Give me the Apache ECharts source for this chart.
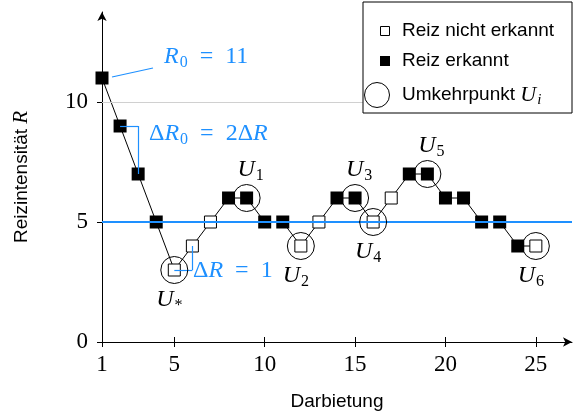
<!DOCTYPE html>
<html>
<head>
<meta charset="utf-8">
<script src="https://cdn.jsdelivr.net/npm/echarts@6/dist/echarts.min.js"></script>
<style>
  html, body { margin: 0; padding: 0; background: #fff; }
  #chart { width: 574px; height: 412px; }
</style>
</head>
<body>
<div id="chart"></div>
<script>
// staircase data
const trials = [1, 2, 3, 4, 5, 6, 7, 8, 9, 10, 11, 12, 13, 14, 15, 16, 17, 18, 19, 20, 21, 22, 23, 24, 25];
const intensity = [11, 9, 7, 5, 3, 4, 5, 6, 6, 5, 5, 4, 5, 6, 6, 5, 6, 7, 7, 6, 6, 5, 5, 4, 4];
const detected = [1, 1, 1, 1, 0, 0, 0, 1, 1, 1, 1, 0, 0, 1, 1, 0, 0, 1, 1, 1, 1, 1, 1, 1, 0];
const reversalTrials = [5, 9, 12, 15, 16, 19, 25];
const reversalNames = ["*", "1", "2", "3", "4", "5", "6"];
const xTicks = [1, 5, 10, 15, 20, 25];
const yTicks = [0, 5, 10];
const threshold = 5;
const refLevel = 10;

const BLUE = "#1e90ff";
const SERIF = "Liberation Serif";
const SANS = "Liberation Sans";
const SP = "\u2002"; // wider space around "=" like TeX math

const chart = echarts.init(document.getElementById("chart"));

const points = trials.map((t, i) => [t, intensity[i]]);
const hits = points.filter((p, i) => detected[i] === 1);
const misses = points.filter((p, i) => detected[i] === 0);

// label placement for the reversal marks (above for peaks, below for valleys)
const above = [9, 15, 19];
const reversals = reversalTrials.map((t, k) => {
  const v = intensity[trials.indexOf(t)];
  const up = above.includes(t);
  return {
    value: [t, v],
    label: {
      formatter: "{u|U}{s|" + reversalNames[k] + "}",
      offset: up ? [4, -28] : [-5, 30],
    },
  };
});

const mathRich = {
  u: { fontFamily: SERIF, fontStyle: "italic", fontSize: 24, color: "#000" },
  s: { fontFamily: SERIF, fontSize: 16, color: "#000", padding: [12, 0, 0, 1] },
};

// bracket segments for the step sizes
const p1 = points[1], p2 = points[2], p4 = points[4], p5 = points[5];
const brackets = [
  [{ coord: [p1[0], p1[1]] }, { coord: [p2[0], p1[1]] }],
  [{ coord: [p2[0], p1[1]] }, { coord: [p2[0], p2[1]] }],
  [{ coord: [p5[0], p5[1]] }, { coord: [p5[0], p4[1]] }],
  [{ coord: [p5[0], p4[1]] }, { coord: [p4[0], p4[1]] }],
];

function blueRich(size) {
  return {
    n: { fontFamily: SERIF, fontSize: size, fill: BLUE },
    i: { fontFamily: SERIF, fontStyle: "italic", fontSize: size, fill: BLUE },
    s: { fontFamily: SERIF, fontSize: 16, fill: BLUE, padding: [12, 0, 0, 1] },
  };
}

const option = {
  animation: false,
  backgroundColor: "#fff",
  grid: { left: 102, right: 2, top: 12, bottom: 70, outerBoundsMode: "none" },
  xAxis: [
    {
      type: "value",
      min: 1,
      max: 27,
      position: "bottom",
      name: "Darbietung",
      nameLocation: "middle",
      nameGap: 50,
      nameTextStyle: { fontFamily: SANS, fontSize: 19, color: "#000" },
      axisLine: {
        onZero: false,
        symbol: ["none", "arrow"],
        symbolSize: [7, 9],
        lineStyle: { color: "#000", width: 1 },
      },
      axisTick: { length: 5, customValues: xTicks, lineStyle: { color: "#000" } },
      axisLabel: { customValues: xTicks, fontFamily: SERIF, fontSize: 23, color: "#000", margin: 11 },
      splitLine: { show: false },
    },
    {
      type: "value",
      min: 1,
      max: 27,
      position: "bottom",
      axisLine: { show: false, onZero: false },
      axisTick: { inside: true, length: 5, customValues: xTicks, lineStyle: { color: "#000" } },
      axisLabel: { show: false },
      splitLine: { show: false },
    },
  ],
  yAxis: [
    {
      type: "value",
      min: 0,
      max: 13.75,
      position: "left",
      name: "Reizintensität {i|R}",
      nameLocation: "middle",
      nameGap: 70,
      nameTextStyle: {
        fontFamily: SANS,
        fontSize: 19,
        color: "#000",
        rich: { i: { fontFamily: SERIF, fontStyle: "italic", fontSize: 21, color: "#000" } },
      },
      axisLine: {
        onZero: false,
        symbol: ["none", "arrow"],
        symbolSize: [7, 9],
        lineStyle: { color: "#000", width: 1 },
      },
      axisTick: { length: 5, customValues: yTicks, lineStyle: { color: "#000" } },
      axisLabel: { customValues: yTicks, fontFamily: SERIF, fontSize: 23, color: "#000", margin: 14 },
      splitLine: { show: false },
    },
    {
      type: "value",
      min: 0,
      max: 13.75,
      position: "left",
      axisLine: { show: false, onZero: false },
      axisTick: { inside: true, length: 5, customValues: yTicks, lineStyle: { color: "#000" } },
      axisLabel: { show: false },
      splitLine: { show: false },
    },
  ],
  series: [
    {
      name: "guides",
      type: "scatter",
      data: [],
      z: 1,
      markLine: {
        silent: true,
        symbol: "none",
        label: { show: false },
        data: [
          { yAxis: refLevel, lineStyle: { color: "#d0d0d0", width: 1, type: "solid" } },
        ],
      },
    },
    {
      name: "staircase",
      type: "line",
      data: points,
      showSymbol: false,
      lineStyle: { color: "#000", width: 1 },
      z: 2,
    },
    {
      name: "threshold",
      type: "scatter",
      data: [],
      z: 3,
      markLine: {
        silent: true,
        symbol: "none",
        label: { show: false },
        lineStyle: { color: BLUE, width: 2, type: "solid" },
        data: [{ yAxis: threshold }].concat(
          brackets.map((b) => [
            Object.assign({}, b[0], { lineStyle: { width: 1.2, color: BLUE, type: "solid" } }),
            b[1],
          ])
        ),
      },
    },
    {
      name: "Reiz erkannt",
      type: "scatter",
      data: hits,
      symbol: "rect",
      symbolSize: 13,
      itemStyle: { color: "#000", opacity: 1 },
      z: 4,
    },
    {
      name: "Reiz nicht erkannt",
      type: "scatter",
      data: misses,
      symbol: "rect",
      symbolSize: 12,
      itemStyle: { color: "#fff", borderColor: "#000", borderWidth: 1, opacity: 1 },
      z: 4,
    },
    {
      name: "Umkehrpunkt",
      type: "scatter",
      data: reversals,
      symbol: "circle",
      symbolSize: 27,
      itemStyle: { color: "rgba(0,0,0,0)", borderColor: "#000", borderWidth: 1, opacity: 1 },
      label: { show: true, position: "inside", rich: mathRich },
      z: 5,
    },
  ],
  graphic: [
    // R0 pointer
    {
      type: "line",
      shape: { x1: 112, y1: 77, x2: 153, y2: 68 },
      style: { stroke: BLUE, lineWidth: 1.2 },
      z: 10,
    },
    {
      type: "text",
      x: 164, y: 57,
      style: {
        text: "{i|R}{s|0}{n|" + SP + "=" + SP + "11}",
        rich: blueRich(24),
        verticalAlign: "middle",
      },
      z: 10,
    },
    {
      type: "text",
      x: 149, y: 134,
      style: {
        text: "{n|Δ}{i|R}{s|0}{n|" + SP + "=" + SP + "2Δ}{i|R}",
        rich: blueRich(24),
        verticalAlign: "middle",
      },
      z: 10,
    },
    {
      type: "text",
      x: 193, y: 271,
      style: {
        text: "{n|Δ}{i|R}{n|" + SP + "=" + SP + "1}",
        rich: blueRich(24),
        verticalAlign: "middle",
      },
      z: 10,
    },
    // legend
    {
      type: "rect",
      shape: { x: 363, y: 2, width: 209, height: 111 },
      style: { fill: "#fff", stroke: "#000", lineWidth: 1 },
      z: 20,
    },
    {
      type: "rect",
      shape: { x: 380.5, y: 26.5, width: 9, height: 9 },
      style: { fill: "#fff", stroke: "#000", lineWidth: 1 },
      z: 21,
    },
    {
      type: "rect",
      shape: { x: 380, y: 56, width: 10, height: 10 },
      style: { fill: "#000" },
      z: 21,
    },
    {
      type: "circle",
      shape: { cx: 377, cy: 95, r: 12.5 },
      style: { fill: "#fff", stroke: "#000", lineWidth: 1 },
      z: 21,
    },
    {
      type: "text",
      x: 402, y: 31,
      style: { text: "Reiz nicht erkannt", font: '19px "Liberation Sans"', fill: "#000", verticalAlign: "middle" },
      z: 21,
    },
    {
      type: "text",
      x: 402, y: 61,
      style: { text: "Reiz erkannt", font: '19px "Liberation Sans"', fill: "#000", verticalAlign: "middle" },
      z: 21,
    },
    {
      type: "text",
      x: 402, y: 95,
      style: {
        text: "{t|Umkehrpunkt }{i|U}{s|i}",
        rich: {
          t: { fontFamily: SANS, fontSize: 19, fill: "#000" },
          i: { fontFamily: SERIF, fontStyle: "italic", fontSize: 22, fill: "#000" },
          s: { fontFamily: SERIF, fontStyle: "italic", fontSize: 15, fill: "#000", padding: [10, 0, 0, 1] },
        },
        verticalAlign: "middle",
      },
      z: 21,
    },
  ],
};

chart.setOption(option);
</script>
</body>
</html>
